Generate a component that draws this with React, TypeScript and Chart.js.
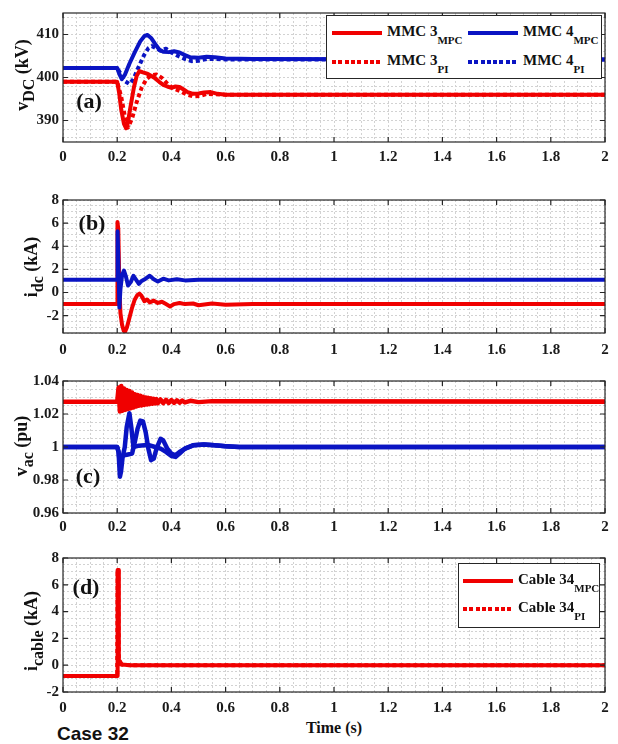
import React, { useEffect, useRef } from 'react';
import { Chart, registerables } from 'chart.js';

Chart.register(...registerables);

// ---------------- data ----------------
const timeTicks = [0, 0.2, 0.4, 0.6, 0.8, 1, 1.2, 1.4, 1.6, 1.8, 2];

// (a) DC voltage, kV
const vdcTicks = [390, 400, 410];
const vdcMmc3Mpc: [number, number][] = [
  [0, 399.0], [0.2, 399.0], [0.207, 396.5], [0.215, 392.5], [0.225, 389.2], [0.233, 388.2], [0.24, 389.8],
  [0.25, 393.5], [0.262, 397.8], [0.272, 400.4], [0.282, 401.5], [0.295, 401.2], [0.31, 400.9], [0.325, 400.4],
  [0.34, 399.8], [0.355, 399.0], [0.37, 398.3], [0.385, 397.9], [0.4, 397.6], [0.415, 397.9], [0.43, 397.8],
  [0.445, 397.2], [0.46, 396.6], [0.48, 396.2], [0.5, 396.3], [0.52, 396.5], [0.545, 396.6], [0.57, 396.2],
  [0.6, 396.0], [0.7, 396.0], [2, 396.0],
];
const vdcMmc3Pi: [number, number][] = [
  [0, 399.0], [0.2, 399.0], [0.215, 395.5], [0.228, 391.0], [0.24, 388.4], [0.255, 390.5], [0.272, 394.3],
  [0.29, 397.6], [0.308, 399.6], [0.325, 400.5], [0.345, 400.7], [0.365, 399.9], [0.385, 398.6], [0.405, 397.5],
  [0.43, 396.9], [0.455, 396.1], [0.48, 395.6], [0.505, 395.7], [0.53, 396.2], [0.56, 396.1], [0.6, 396.0], [2, 396.0],
];
const vdcMmc4Mpc: [number, number][] = [
  [0, 402.2], [0.2, 402.2], [0.208, 400.8], [0.217, 399.6], [0.228, 400.6], [0.245, 403.2], [0.265, 405.9],
  [0.285, 408.4], [0.3, 409.6], [0.312, 409.9], [0.325, 409.2], [0.34, 407.8], [0.355, 406.5], [0.37, 406.0],
  [0.39, 405.9], [0.41, 406.1], [0.43, 405.8], [0.45, 405.2], [0.47, 404.7], [0.5, 404.6], [0.53, 404.8],
  [0.56, 404.7], [0.6, 404.4], [0.7, 404.3], [2, 404.2],
];
const vdcMmc4Pi: [number, number][] = [
  [0, 402.2], [0.2, 402.2], [0.215, 400.6], [0.23, 399.1], [0.245, 398.5], [0.26, 399.6], [0.28, 402.6],
  [0.3, 405.3], [0.315, 406.8], [0.328, 407.3], [0.345, 406.8], [0.36, 406.2], [0.38, 406.7], [0.4, 405.8],
  [0.425, 405.0], [0.45, 404.3], [0.475, 403.8], [0.5, 403.9], [0.53, 404.3], [0.56, 404.3], [0.6, 404.2], [2, 404.2],
];

// (b) DC current, kA
const idcTicks = [-2, 0, 2, 4, 6, 8];
const idcMmc3Mpc: [number, number][] = [
  [0, -1.0], [0.2, -1.0], [0.201, 6.1], [0.204, 5.5], [0.208, 0.5], [0.212, -1.8], [0.218, -2.8], [0.224, -3.3],
  [0.229, -3.4], [0.236, -3.0], [0.245, -2.2], [0.255, -1.3], [0.265, -0.6], [0.275, -0.2], [0.282, -0.1],
  [0.29, -0.3], [0.3, -0.75], [0.31, -0.6], [0.32, -0.85], [0.335, -0.7], [0.35, -0.9], [0.365, -0.8],
  [0.38, -1.0], [0.395, -1.2], [0.41, -1.0], [0.43, -0.9], [0.45, -1.0], [0.48, -0.95], [0.5, -1.1],
  [0.55, -0.95], [0.6, -1.05], [0.7, -1.0], [2, -1.0],
];
const idcMmc4Mpc: [number, number][] = [
  [0, 1.1], [0.2, 1.1], [0.2015, 5.3], [0.204, 3.0], [0.208, -1.3], [0.212, 0.3], [0.218, 1.5], [0.225, 1.9],
  [0.232, 1.4], [0.24, 0.6], [0.25, 0.9], [0.26, 1.45], [0.27, 1.1], [0.28, 0.75], [0.29, 1.0], [0.305, 1.2],
  [0.32, 1.45], [0.335, 1.15], [0.35, 0.95], [0.37, 1.2], [0.39, 1.05], [0.42, 1.15], [0.45, 1.05], [0.5, 1.1], [2, 1.1],
];

// (c) AC voltage, pu
const vacTicks = [0.96, 0.98, 1, 1.02, 1.04];
const vacMmc3: [number, number][] = [
  [0, 1.0275], [0.2, 1.0275], [0.205, 1.036], [0.21, 1.0215], [0.215, 1.037], [0.22, 1.022], [0.225, 1.0355],
  [0.23, 1.0225], [0.235, 1.0345], [0.24, 1.023], [0.245, 1.034], [0.25, 1.0235], [0.255, 1.033], [0.26, 1.024],
  [0.265, 1.032], [0.27, 1.0245], [0.275, 1.0315], [0.28, 1.025], [0.285, 1.031], [0.29, 1.0252], [0.295, 1.0305],
  [0.3, 1.0255], [0.305, 1.030], [0.31, 1.0258], [0.315, 1.0298], [0.32, 1.026], [0.325, 1.0295], [0.33, 1.0262],
  [0.335, 1.0292], [0.34, 1.0264], [0.345, 1.029], [0.35, 1.0265], [0.36, 1.0288], [0.37, 1.0266], [0.38, 1.0286],
  [0.39, 1.0267], [0.4, 1.0284], [0.41, 1.0268], [0.42, 1.0283], [0.43, 1.0269], [0.44, 1.0282], [0.45, 1.027],
  [0.47, 1.028], [0.5, 1.0272], [0.55, 1.0278], [2, 1.0275],
];
const vacMmc4Mpc: [number, number][] = [
  [0, 1.0], [0.2, 1.0], [0.205, 0.997], [0.21, 0.982], [0.214, 0.985], [0.22, 0.994], [0.228, 1.0], [0.235, 1.012],
  [0.245, 1.0205], [0.252, 1.012], [0.26, 1.0], [0.28, 1.0008], [0.3, 1.001], [0.32, 1.001], [0.34, 1.0],
  [0.36, 0.999], [0.38, 0.997], [0.4, 0.9945], [0.415, 0.994], [0.43, 0.996], [0.45, 0.999], [0.48, 1.001],
  [0.52, 1.0015], [0.56, 1.001], [0.6, 1.0005], [0.65, 1.0], [2, 1.0],
];
const vacMmc4Pi: [number, number][] = [
  [0, 1.0], [0.2, 1.0], [0.205, 0.997], [0.21, 0.99], [0.215, 0.994], [0.225, 0.995], [0.24, 0.9955],
  [0.255, 0.996], [0.265, 1.003], [0.275, 1.011], [0.285, 1.016], [0.295, 1.0155], [0.305, 1.009], [0.315, 0.999],
  [0.325, 0.992], [0.335, 0.993], [0.345, 0.999], [0.36, 1.005], [0.37, 1.004], [0.385, 0.999], [0.4, 0.996],
  [0.415, 0.995], [0.43, 0.997], [0.45, 0.999], [0.48, 1.001], [0.52, 1.0015], [0.56, 1.001], [0.6, 1.0005],
  [0.65, 1.0], [2, 1.0],
];

// (d) cable current, kA
const icableTicks = [-2, 0, 2, 4, 6, 8];
const icableMpc: [number, number][] = [
  [0, -0.8], [0.2, -0.8], [0.2015, 7.1], [0.204, 7.1], [0.206, 0.1], [0.21, 0.3], [0.216, 0.05], [0.25, 0.0], [2, 0.0],
];
const icablePi: [number, number][] = [
  [0, -0.8], [0.2, -0.8], [0.2015, 7.1], [0.204, 7.1], [0.206, 0.1], [0.21, 0.3], [0.216, 0.05], [0.25, 0.0], [2, 0.0],
];

// ---------------- styling ----------------
const RED = '#f00000';
const BLUE = '#0a14c3';
const SERIF = '"Liberation Serif", "Times New Roman", serif';

type Series = { data: [number, number][]; color: string; dashed?: boolean; width?: number };
type PanelCfg = {
  top: number; height: number; padTop: number; xAxisH: number; xPad: number;
  yMin: number; yMax: number; yMinor: number; yTicks: number[]; series: Series[];
};

const panels: PanelCfg[] = [
  {
    top: 0, height: 170, padTop: 7, xAxisH: 28, xPad: 6, yMin: 385, yMax: 415, yMinor: 2, yTicks: vdcTicks,
    series: [
      { data: vdcMmc3Mpc, color: RED }, { data: vdcMmc4Mpc, color: BLUE },
      { data: vdcMmc3Pi, color: RED, dashed: true }, { data: vdcMmc4Pi, color: BLUE, dashed: true },
    ],
  },
  {
    top: 172, height: 196, padTop: 28, xAxisH: 35, xPad: 8, yMin: -3.5, yMax: 8, yMinor: 0.5, yTicks: idcTicks,
    series: [{ data: idcMmc4Mpc, color: BLUE }, { data: idcMmc3Mpc, color: RED }],
  },
  {
    top: 368, height: 170, padTop: 11, xAxisH: 25, xPad: 5, yMin: 0.96, yMax: 1.04, yMinor: 0.005, yTicks: vacTicks,
    series: [
      { data: vacMmc3, color: RED, width: 4.5 }, { data: vacMmc4Mpc, color: BLUE, width: 4.5 },
      { data: vacMmc4Pi, color: BLUE, width: 4.5 },
    ],
  },
  {
    top: 538, height: 180, padTop: 20, xAxisH: 26, xPad: 7, yMin: -2, yMax: 8, yMinor: 0.5, yTicks: icableTicks,
    series: [{ data: icableMpc, color: RED }, { data: icablePi, color: RED, dashed: true }],
  },
];

const near = (v: number, arr: number[]) => arr.some((a) => Math.abs(a - v) < 1e-7);
const fmt = (v: number) => String(parseFloat(v.toFixed(3)));
const steps = (min: number, max: number, step: number) => {
  const out: number[] = [];
  const start = Math.ceil(min / step - 1e-9);
  const end = Math.floor(max / step + 1e-9);
  for (let i = start; i <= end; i++) out.push(parseFloat((i * step).toFixed(6)));
  return out;
};

const framePlugin = {
  id: 'frame',
  afterDraw(chart: any, _args: any, opts: any) {
    const { ctx, chartArea } = chart;
    const { left, right, top, bottom } = chartArea;
    const xs = chart.scales.x;
    const ys = chart.scales.y;
    ctx.save();
    ctx.strokeStyle = '#262626';
    ctx.lineWidth = 1.2;
    ctx.strokeRect(left, top, right - left, bottom - top);
    const L = 5;
    ctx.beginPath();
    (opts.xTicks as number[]).forEach((v) => {
      const px = xs.getPixelForValue(v);
      ctx.moveTo(px, bottom); ctx.lineTo(px, bottom - L);
      ctx.moveTo(px, top); ctx.lineTo(px, top + L);
    });
    (opts.yTicks as number[]).forEach((v) => {
      const py = ys.getPixelForValue(v);
      ctx.moveTo(left, py); ctx.lineTo(left + L, py);
      ctx.moveTo(right, py); ctx.lineTo(right - L, py);
    });
    ctx.stroke();
    ctx.restore();
  },
};

function Panel({ cfg }: { cfg: PanelCfg }) {
  const ref = useRef<HTMLCanvasElement>(null);
  useEffect(() => {
    const xMinor = steps(0, 2, 0.05);
    const yMinor = steps(cfg.yMin, cfg.yMax, cfg.yMinor);
    const tickFont = { family: SERIF, weight: 'bold' as const, size: 15 };
    const chart = new Chart(ref.current!, {
      type: 'line',
      data: {
        datasets: cfg.series.map((s) => ({
          data: s.data.map(([x, y]) => ({ x, y })),
          borderColor: s.color,
          borderWidth: s.width ?? 4,
          borderDash: s.dashed ? [4, 3] : [],
          pointRadius: 0,
          tension: 0,
          fill: false,
          borderJoinStyle: 'round' as const,
          borderCapStyle: 'butt' as const,
        })),
      },
      options: {
        responsive: false,
        animation: false,
        events: [],
        layout: { padding: { left: 0, right: 13, top: cfg.padTop, bottom: 0 } },
        plugins: {
          legend: { display: false },
          tooltip: { enabled: false },
          frame: { xTicks: timeTicks, yTicks: cfg.yTicks },
        } as any,
        scales: {
          x: {
            type: 'linear',
            min: 0,
            max: 2,
            afterBuildTicks: (s: any) => { s.ticks = xMinor.map((v) => ({ value: v })); },
            afterFit: (s: any) => { s.height = cfg.xAxisH; },
            ticks: {
              autoSkip: false, maxRotation: 0, padding: cfg.xPad, font: tickFont, color: '#1a1a1a',
              callback: (v: any) => (near(+v, timeTicks) ? fmt(+v) : ''),
            },
            grid: { drawTicks: false, color: '#d2d2d2', lineWidth: 1 },
            border: { display: false, dash: [2, 2] },
          },
          y: {
            type: 'linear',
            min: cfg.yMin,
            max: cfg.yMax,
            afterBuildTicks: (s: any) => { s.ticks = yMinor.map((v) => ({ value: v })); },
            afterFit: (s: any) => { s.width = 63; },
            ticks: {
              autoSkip: false, padding: 4, font: tickFont, color: '#1a1a1a',
              callback: (v: any) => (near(+v, cfg.yTicks) ? fmt(+v) : ''),
            },
            grid: { drawTicks: false, color: '#d2d2d2', lineWidth: 1 },
            border: { display: false, dash: [2, 2] },
          },
        },
      } as any,
      plugins: [framePlugin],
    });
    return () => chart.destroy();
  }, [cfg]);
  return (
    <canvas
      ref={ref}
      width={618}
      height={cfg.height}
      style={{ position: 'absolute', left: 0, top: cfg.top, width: 618, height: cfg.height }}
    />
  );
}

function YTitle({ cx, cy, main, sub, unit }: { cx: number; cy: number; main: string; sub: string; unit: string }) {
  return (
    <div
      style={{
        position: 'absolute', left: cx, top: cy, transform: 'translate(-50%, -50%) rotate(-90deg)',
        whiteSpace: 'nowrap', fontFamily: SERIF, fontWeight: 'bold', fontSize: 18, lineHeight: '20px', color: '#111',
      }}
    >
      {main}
      <span style={{ fontSize: 16, position: 'relative', top: 6 }}>{sub}</span>
      {' '}
      {unit}
    </div>
  );
}

function PanelLabel({ cx, cy, text }: { cx: number; cy: number; text: string }) {
  return (
    <div
      style={{
        position: 'absolute', left: cx, top: cy, transform: 'translate(-50%, -50%)', whiteSpace: 'nowrap',
        fontFamily: SERIF, fontWeight: 'bold', fontSize: 22, lineHeight: '24px', color: '#111',
      }}
    >
      {text}
    </div>
  );
}

function LegendItem({ x, y, color, dashed, main, sub }: { x: number; y: number; color: string; dashed?: boolean; main: string; sub: string }) {
  return (
    <>
      <div
        style={{
          position: 'absolute', left: x, top: y - 2, width: 50, height: 4,
          background: dashed ? `repeating-linear-gradient(90deg, ${color} 0 4px, transparent 4px 6.3px)` : color,
        }}
      />
      <div
        style={{
          position: 'absolute', left: x + 55, top: y - 11, whiteSpace: 'nowrap', fontFamily: SERIF,
          fontWeight: 'bold', fontSize: 15, lineHeight: '18px', color: '#111',
        }}
      >
        {main}
        <span style={{ fontSize: 11, position: 'relative', top: 8 }}>{sub}</span>
      </div>
    </>
  );
}

export default function App() {
  return (
    <div style={{ position: 'absolute', left: 0, top: 0, width: 618, height: 744, background: '#fff', overflow: 'hidden' }}>
      {panels.map((p, i) => (
        <Panel key={i} cfg={p} />
      ))}

      <YTitle cx={22} cy={75} main="v" sub="DC" unit="(kV)" />
      <YTitle cx={31} cy={267} main="i" sub="dc" unit="(kA)" />
      <YTitle cx={21} cy={446} main="v" sub="ac" unit="(pu)" />
      <YTitle cx={31} cy={631} main="i" sub="cable" unit="(kA)" />

      <PanelLabel cx={89} cy={101} text="(a)" />
      <PanelLabel cx={92} cy={223} text="(b)" />
      <PanelLabel cx={88} cy={476} text="(c)" />
      <PanelLabel cx={86} cy={587} text="(d)" />

      <div style={{ position: 'absolute', left: 326, top: 15, width: 276, height: 64, background: '#fff', border: '1px solid #262626', boxSizing: 'border-box' }} />
      <LegendItem x={332} y={33} color={RED} main="MMC 3" sub="MPC" />
      <LegendItem x={468} y={33} color={BLUE} main="MMC 4" sub="MPC" />
      <LegendItem x={332} y={62} color={RED} dashed main="MMC 3" sub="PI" />
      <LegendItem x={468} y={62} color={BLUE} dashed main="MMC 4" sub="PI" />

      <div style={{ position: 'absolute', left: 458, top: 563, width: 142, height: 65, background: '#fff', border: '1px solid #262626', boxSizing: 'border-box' }} />
      <LegendItem x={463} y={581} color={RED} main="Cable 34" sub="MPC" />
      <LegendItem x={463} y={609} color={RED} dashed main="Cable 34" sub="PI" />

      <div
        style={{
          position: 'absolute', left: 334, top: 728, transform: 'translate(-50%, -50%)', whiteSpace: 'nowrap',
          fontFamily: SERIF, fontWeight: 'bold', fontSize: 16, lineHeight: '18px', color: '#111',
        }}
      >
        Time (s)
      </div>
      <div
        style={{
          position: 'absolute', left: 57, top: 734, transform: 'translateY(-50%)', whiteSpace: 'nowrap',
          fontFamily: '"Liberation Sans", Arial, sans-serif', fontWeight: 'bold', fontSize: 19, lineHeight: '22px', color: '#111',
        }}
      >
        Case 32
      </div>
    </div>
  );
}
